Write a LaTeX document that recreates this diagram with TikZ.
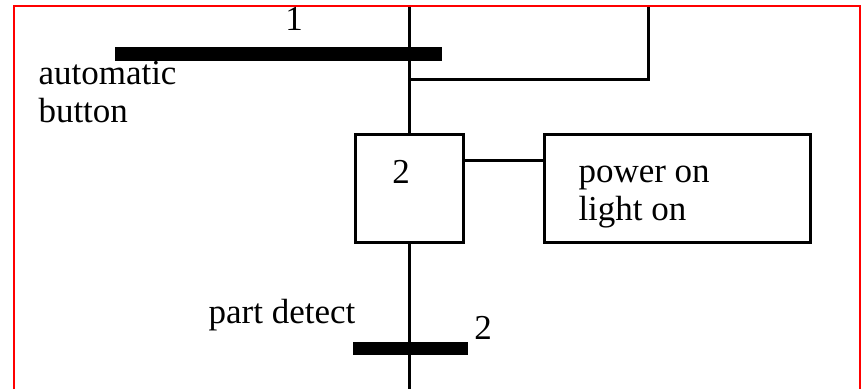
\documentclass[tikz,border=0pt]{standalone}
\usepackage{fontspec}
\setmainfont{Liberation Serif}
\begin{document}
\begin{tikzpicture}[x=1pt,y=-1pt,
  line width=3pt,
  txt/.style={inner sep=0pt,font=\fontsize{35}{38}\selectfont},
  stepbox/.style={draw,minimum width=108pt,minimum height=108pt,inner sep=0pt},
  actbox/.style={draw,minimum width=266pt,minimum height=108pt,inner sep=0pt},
  bar/.style={fill=black,draw=none,inner sep=0pt}]
\useasboundingbox (0,0) rectangle (863,389);
% frame
\draw[red,line width=2pt] (13.5,389) -- (13.5,6) -- (860,6) -- (860,389);
% coordinates
\coordinate (top) at (409,7);
\coordinate (bot) at (409,389);
\coordinate (looptop) at (648,7);
\coordinate (loopj) at (409,79);
% steps and actions
\node[stepbox] (s2) at (409,188) {};
\node[txt] (s2num) at (401,172) {2};
\node[actbox] (a2) at (677,188) {};
\node[txt,anchor=west,align=left] (a2text) at (577,197) {power on\\light on};
% lines
\draw (top) -- (s2.north);
\draw (s2.south) -- (bot);
\draw (looptop) |- (loopj);
\draw ([yshift=28pt]s2.east) -- ([yshift=28pt]a2.west);
% transition bars
\node[bar,minimum width=327pt,minimum height=14pt] (t1) at (278.5,54) {};
\node[bar,minimum width=115pt,minimum height=13pt] (t2) at (410.5,348.5) {};
% labels
\node[txt] (t1num) at (294,19) {1};
\node[txt,anchor=west,align=left] (t1lab) at (37,92) {automatic\\button};
\node[txt] (t2lab) at (282,315) {part detect};
\node[txt] (t2num) at (483,328) {2};
\end{tikzpicture}
\end{document}
